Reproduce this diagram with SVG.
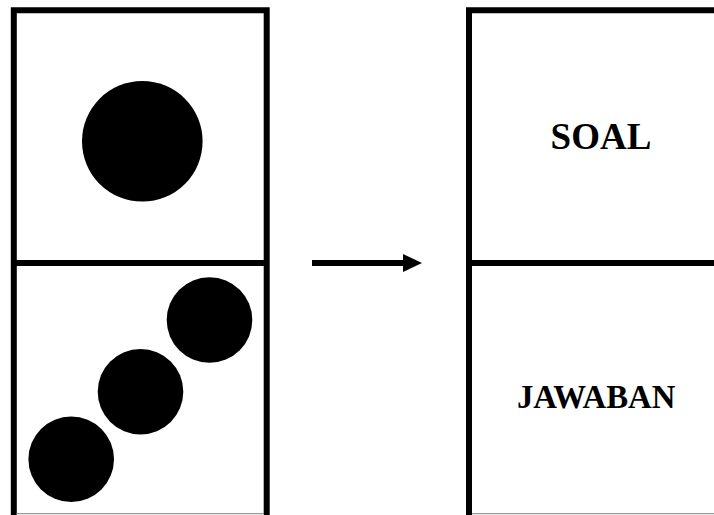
<svg xmlns="http://www.w3.org/2000/svg" width="714" height="515" viewBox="0 0 714 515">
  <style>
    .frame { fill: none; stroke: #000; stroke-width: 6; }
    .edge { fill: none; stroke: #9a9a9a; stroke-width: 1.2; }
    .dot { fill: #000; }
    .label { font-family: "Liberation Serif", "Times New Roman", serif; font-weight: bold; fill: #000; text-anchor: middle; }
  </style>
  <defs>
    <marker id="head" markerUnits="userSpaceOnUse" markerWidth="20" markerHeight="19" refX="0" refY="9" orient="auto">
      <polygon points="0,0 19,9 0,18" fill="#000"/>
    </marker>
  </defs>
  <rect width="714" height="515" fill="#fff"/>

  <!-- domino with dots -->
  <g id="domino-dots">
    <path class="frame" d="M13.8,520 V10.3 H266.7 V520"/>
    <line class="frame" x1="13.8" y1="263" x2="266.7" y2="263"/>
    <line class="edge" x1="16.5" y1="513.6" x2="264" y2="513.6"/>
    <circle class="dot" cx="142.3" cy="141.3" r="60.3"/>
    <circle class="dot" cx="209.5" cy="320" r="42.8"/>
    <circle class="dot" cx="140.5" cy="391.7" r="42.8"/>
    <circle class="dot" cx="71.2" cy="459.2" r="42.8"/>
  </g>

  <!-- card with question and answer -->
  <g id="card-soal-jawaban">
    <path class="frame" d="M469,520 V10.3 H720"/>
    <line class="frame" x1="469" y1="263" x2="720" y2="263"/>
    <line class="edge" x1="472" y1="513.6" x2="714" y2="513.6"/>
    <text class="label" x="601" y="149.3" font-size="37">SOAL</text>
    <text class="label" x="596.2" y="407.7" font-size="32.8">JAWABAN</text>
  </g>

  <!-- connector -->
  <g id="connectors">
    <line x1="312" y1="263" x2="403" y2="263" stroke="#000" stroke-width="6" marker-end="url(#head)"/>
  </g>
</svg>
